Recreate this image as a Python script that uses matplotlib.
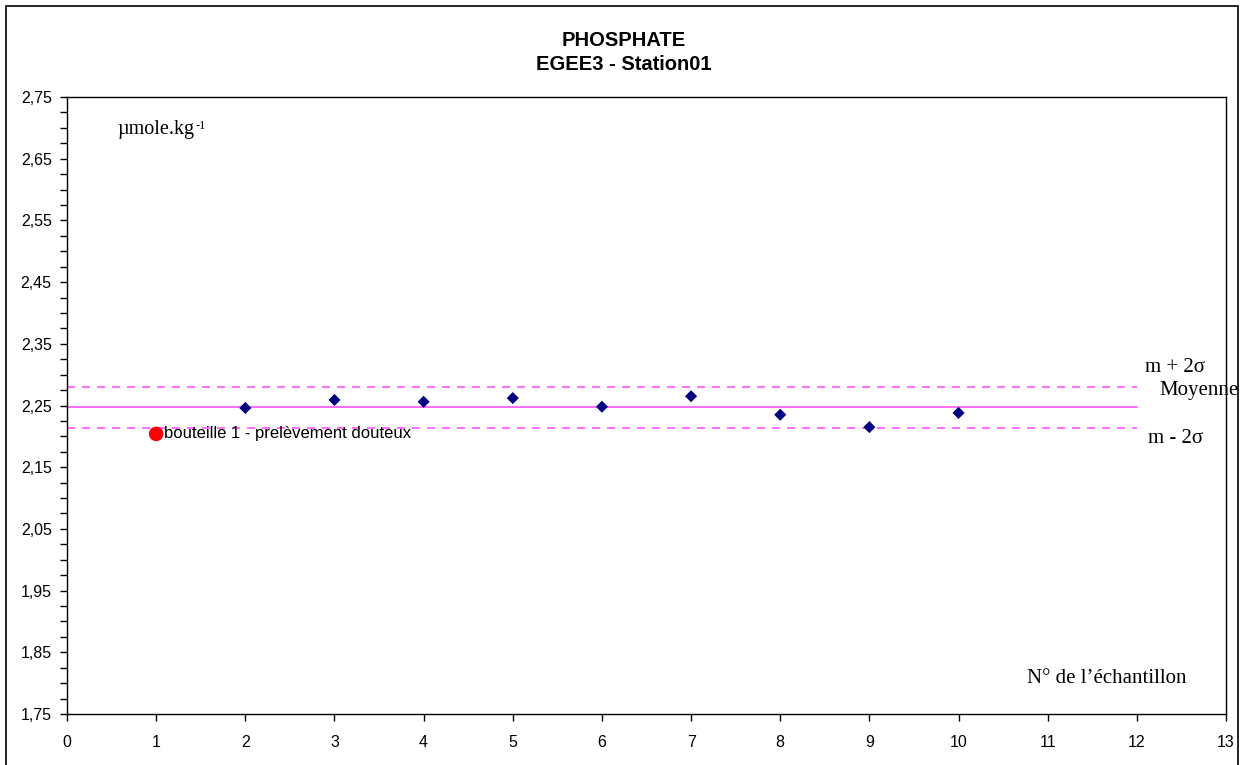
import matplotlib.pyplot as plt
import matplotlib.ticker as ticker
from matplotlib.patches import Rectangle

plt.rcParams['lines.scale_dashes'] = False

# Phosphate replicate samples, station 01
sample_no = [2, 3, 4, 5, 6, 7, 8, 9, 10]
phosphate = [2.246, 2.259, 2.256, 2.262, 2.248, 2.265, 2.235, 2.215, 2.238]
doubtful_no = [1]
doubtful_val = [2.204]

mean_val = 2.247
upper_val = 2.280
lower_val = 2.214
x_span = [0, 12]

sans = ['Liberation Sans', 'DejaVu Sans']
serif = ['Liberation Serif', 'DejaVu Serif']

fig = plt.figure(figsize=(12.47, 7.65), dpi=100)
ax = fig.add_axes([67 / 1247, 1 - 714 / 765, (1226 - 67) / 1247, (714 - 97) / 765])

# mean and +/- 2 sigma lines
ax.plot(x_span, [mean_val, mean_val], color='#ff44ff', lw=1.1, zorder=2)
ax.plot(x_span, [upper_val, upper_val], color='#ff55ff', lw=1.2,
        dashes=(5.8, 5.0), zorder=2)
ax.plot(x_span, [lower_val, lower_val], color='#ff55ff', lw=1.2,
        dashes=(5.8, 5.0), zorder=2)

ax.scatter(sample_no, phosphate, marker='D', s=38, color='#000080',
           edgecolors='none', zorder=3)
ax.scatter(doubtful_no, doubtful_val, marker='o', s=110, color='#ff0000',
           edgecolors='none', zorder=3)
ax.text(doubtful_no[0] + 0.09, doubtful_val[0], 'bouteille 1 - prelèvement douteux',
        family=sans, fontsize=12, va='center', ha='left')

ax.set_xlim(0, 13)
ax.set_ylim(1.75, 2.75)
ax.xaxis.set_major_locator(ticker.MultipleLocator(1))
ax.yaxis.set_major_locator(ticker.MultipleLocator(0.1, offset=0.05))
ax.yaxis.set_minor_locator(ticker.MultipleLocator(0.025))
ax.yaxis.set_major_formatter(ticker.FuncFormatter(lambda v, p: f'{v:.2f}'.replace('.', ',')))
ax.tick_params(axis='both', direction='out', length=5, width=1, labelsize=11.5, pad=6)
ax.tick_params(axis='y', which='minor', direction='out', length=5, width=1)
ax.tick_params(axis='x', pad=10)
for lab in ax.get_xticklabels() + ax.get_yticklabels():
    lab.set_family(sans)
for sp in ax.spines.values():
    sp.set_linewidth(1.0)

# unit and axis captions
unit = ax.text(0.57, 2.697, 'µmole.kg', family=serif, fontsize=14.5, va='center', ha='left')
ax.annotate('-1', xy=(1, 1), xycoords=unit, xytext=(0.5, 0), textcoords='offset points',
            family=serif, fontsize=9, va='top', ha='left')
ax.text(10.77, 1.808, 'N° de l’échantillon', family=serif, fontsize=15, va='center', ha='left')
ax.text(12.43, 2.311, 'm + 2σ', family=serif, fontsize=15, va='center', ha='center', clip_on=False)
ax.text(12.25, 2.275, 'Moyenne', family=serif, fontsize=15, va='center', ha='left', clip_on=False)
ax.text(12.43, 2.197, 'm - 2σ', family=serif, fontsize=15, va='center', ha='center', clip_on=False)

fig.text(0.5, 1 - 41 / 765, 'PHOSPHATE', family=sans, fontsize=14.5,
         weight='bold', ha='center', va='center')
fig.text(0.5, 1 - 65 / 765, 'EGEE3 - Station01', family=sans, fontsize=14.5,
         weight='bold', ha='center', va='center')

# chart frame
fig.patches.append(Rectangle((5.5 / 1247, -0.02), (1238 - 5.5) / 1247, 1.02 - 6 / 765,
                             transform=fig.transFigure, fill=False,
                             edgecolor='black', lw=1.2))

fig.savefig('out.png', dpi=100)
